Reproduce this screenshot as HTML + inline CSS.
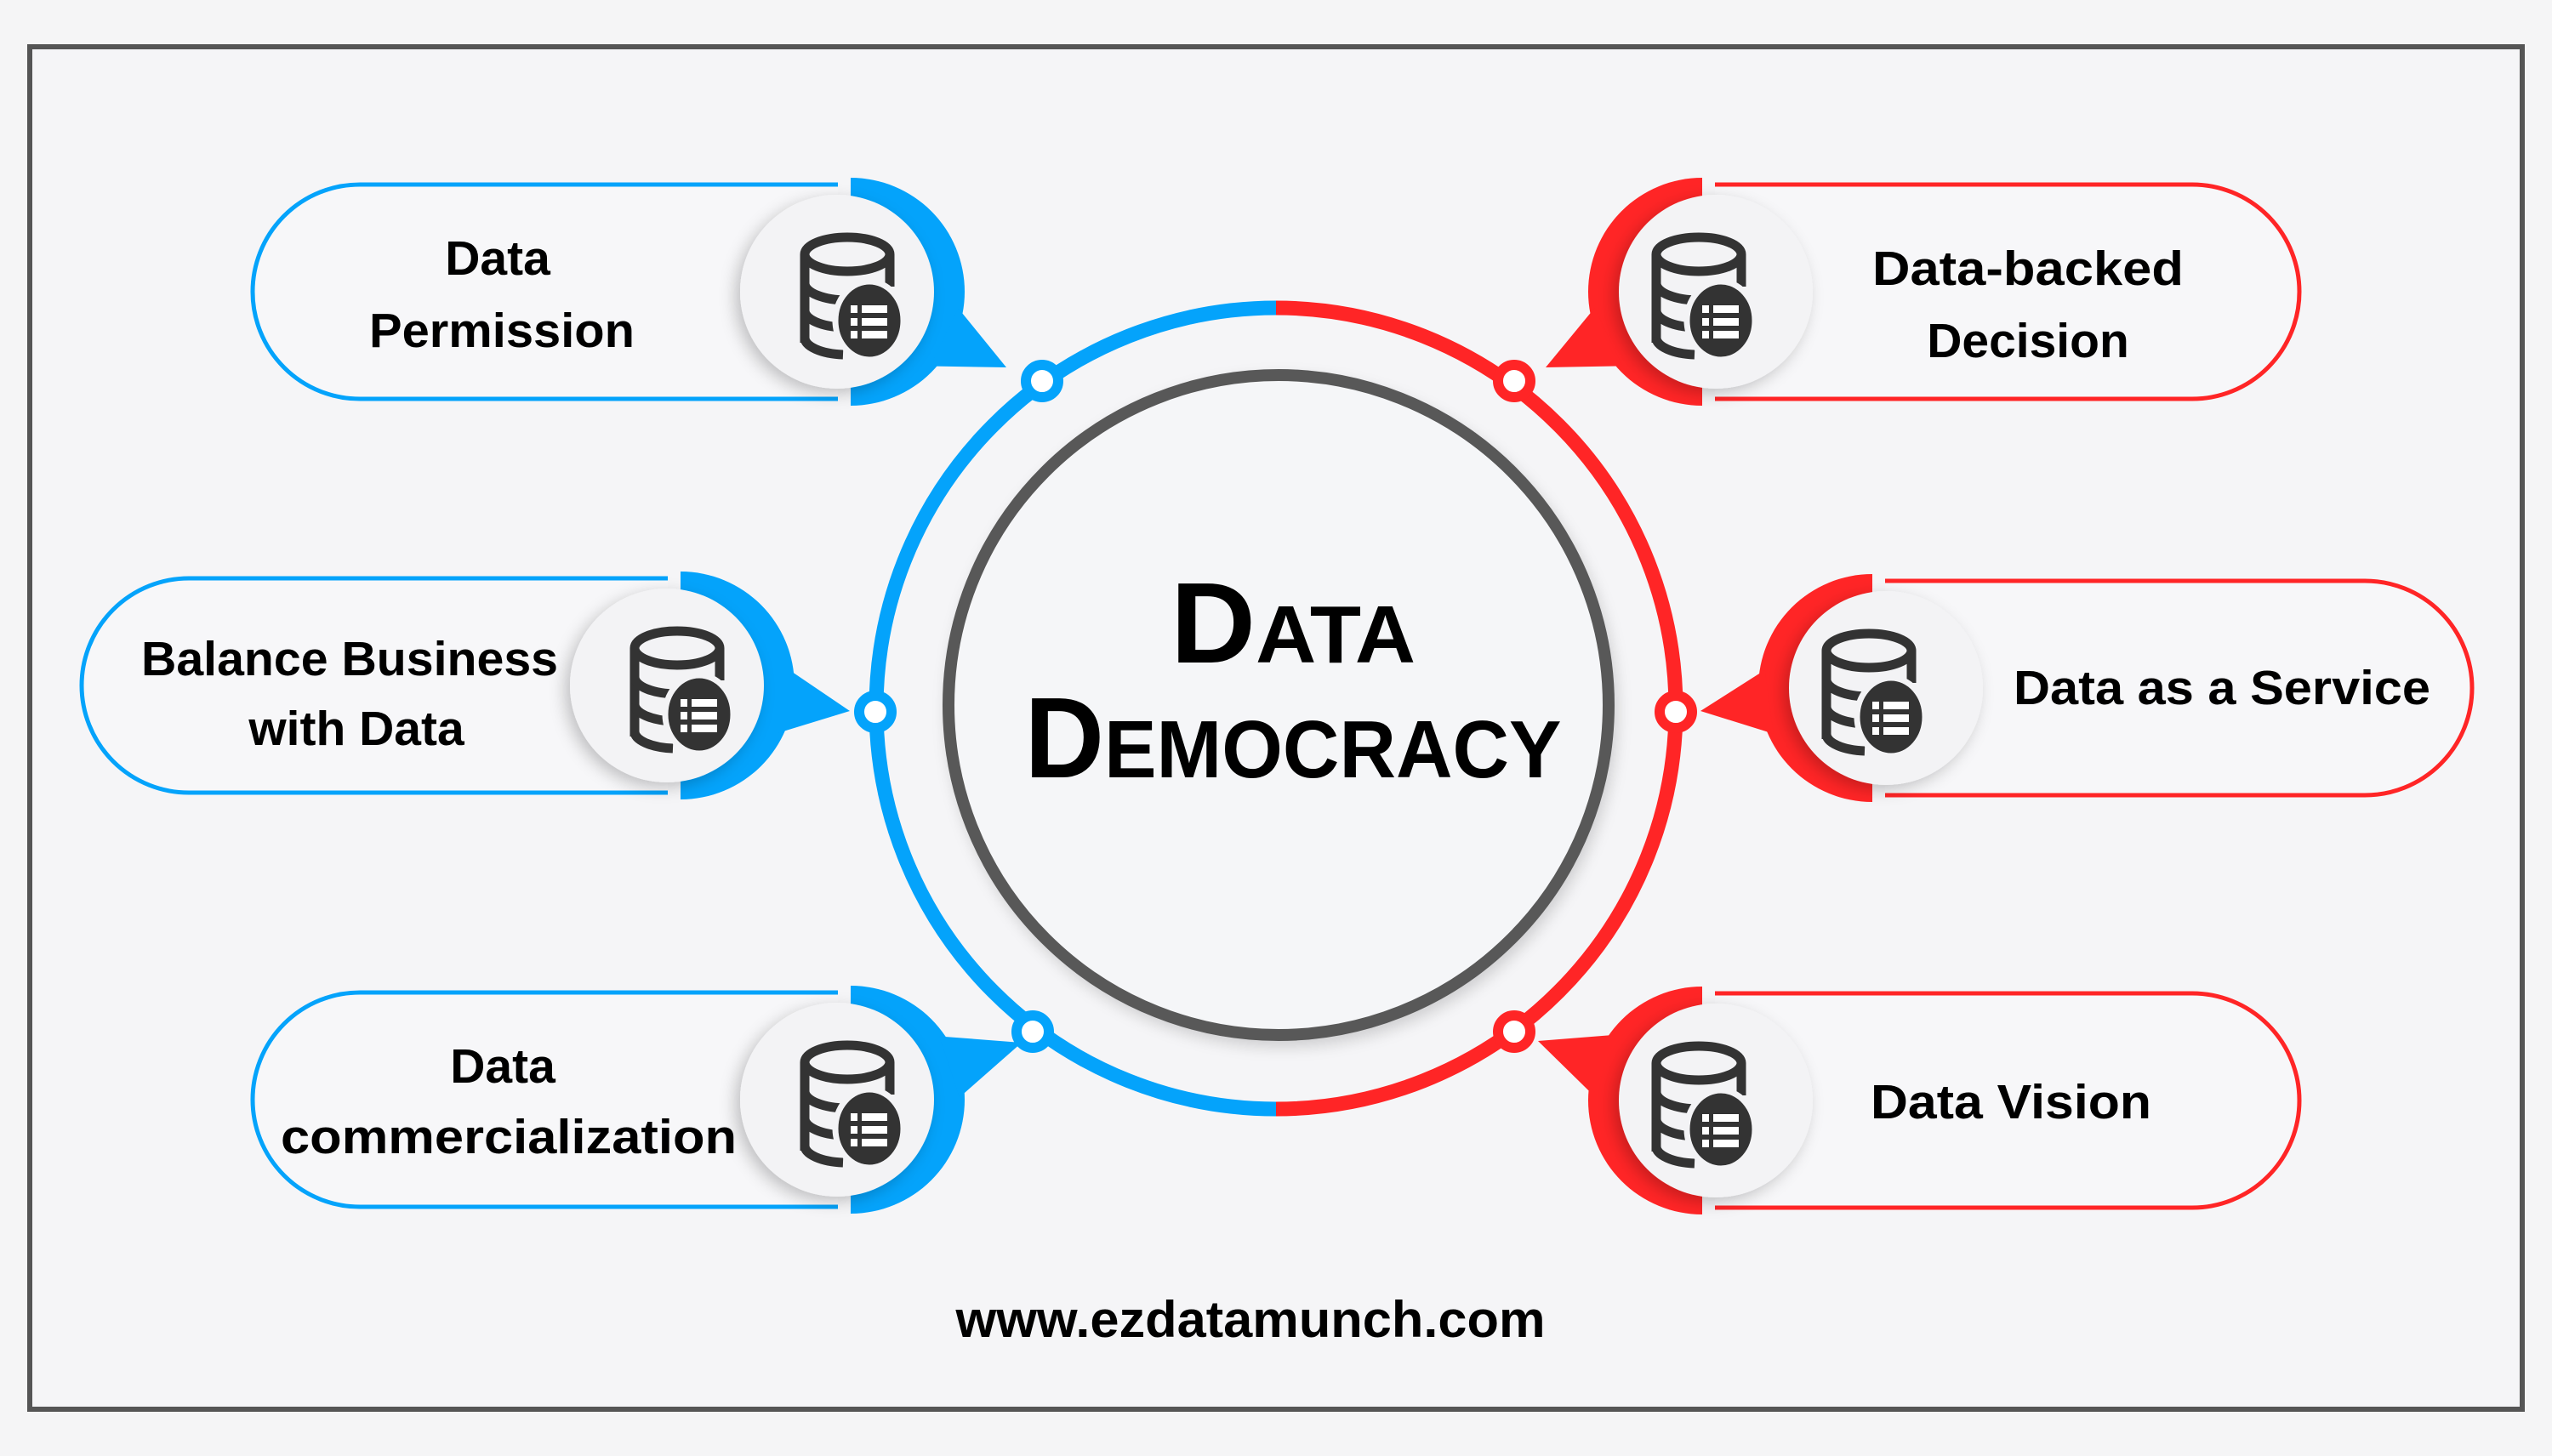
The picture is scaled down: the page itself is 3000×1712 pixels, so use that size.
<!DOCTYPE html>
<html><head><meta charset="utf-8"><style>
html,body{margin:0;padding:0;background:#f5f5f6;}
svg{display:block}
text{font-family:"Liberation Sans",sans-serif;font-weight:bold;fill:#000}
</style></head><body>
<svg id="s" width="3000" height="1712" viewBox="0 0 3000 1712" xmlns="http://www.w3.org/2000/svg">
<defs>
<filter id="sh" x="-30%" y="-30%" width="160%" height="160%"><feDropShadow dx="-6" dy="6" stdDeviation="9" flood-color="#000" flood-opacity="0.22"/></filter>
<filter id="sh2" x="-10%" y="-10%" width="120%" height="120%"><feDropShadow dx="4" dy="8" stdDeviation="8" flood-color="#000" flood-opacity="0.15"/></filter>
<g id="icon">
  <ellipse cx="0" cy="-46" rx="50" ry="20" fill="none" stroke="#333" stroke-width="11"/>
  <path d="M-50,-46 L-50,58" stroke="#333" stroke-width="11"/>
  <path d="M50,-46 L50,-8" stroke="#333" stroke-width="11"/>
  <path d="M-50,-12 A50,20 0 0 0 0,8" fill="none" stroke="#333" stroke-width="11"/>
  <path d="M-50,20 A50,20 0 0 0 -5,40" fill="none" stroke="#333" stroke-width="11"/>
  <path d="M-50,52 A50,20 0 0 0 -5,72" fill="none" stroke="#333" stroke-width="11"/>
  <ellipse cx="26" cy="32" rx="40" ry="46" fill="#333" stroke="#f3f3f5" stroke-width="7"/>
  <rect x="4" y="14" width="8" height="9" fill="#fff"/><rect x="17" y="14" width="30" height="9" fill="#fff"/>
  <rect x="4" y="29" width="8" height="9" fill="#fff"/><rect x="17" y="29" width="30" height="9" fill="#fff"/>
  <rect x="4" y="44" width="8" height="9" fill="#fff"/><rect x="17" y="44" width="30" height="9" fill="#fff"/>
</g>
</defs>
<rect x="0" y="0" width="3000" height="1712" fill="#f5f5f6"/>
<rect x="35" y="55" width="2930" height="1602" fill="#f5f5f7" stroke="#555" stroke-width="6"/>
<g id="shapes"></g>
<path d="M1500,362 A470,471 0 0 0 1500,1304" fill="none" stroke="#04a3fb" stroke-width="17"/>
<path d="M1500,362 A470,471 0 0 1 1500,1304" fill="none" stroke="#ff2526" stroke-width="17"/>
<circle cx="1503" cy="829" r="388" fill="#f5f6f8" stroke="#595959" stroke-width="14" filter="url(#sh2)"/>
<g stroke-width="12" fill="#fff">
<circle cx="1225" cy="448" r="19" stroke="#04a3fb"/>
<circle cx="1029" cy="837" r="19" stroke="#04a3fb"/>
<circle cx="1214" cy="1213" r="19" stroke="#04a3fb"/>
<circle cx="1780" cy="448" r="19" stroke="#ff2526"/>
<circle cx="1970" cy="837" r="19" stroke="#ff2526"/>
<circle cx="1780" cy="1213" r="19" stroke="#ff2526"/>
</g>
<text x="1520" y="779" text-anchor="middle" textLength="288" lengthAdjust="spacingAndGlyphs"><tspan font-size="135">D</tspan><tspan font-size="96">ATA</tspan></text>
<text x="1520" y="914" text-anchor="middle" textLength="631" lengthAdjust="spacingAndGlyphs"><tspan font-size="135">D</tspan><tspan font-size="96">EMOCRACY</tspan></text>
<g font-size="57" text-anchor="middle">
<text x="585" y="323">Data</text>
<text x="590" y="408" textLength="312" lengthAdjust="spacingAndGlyphs">Permission</text>
<text x="411" y="794" textLength="490" lengthAdjust="spacingAndGlyphs">Balance Business</text>
<text x="419" y="876">with Data</text>
<text x="591" y="1273">Data</text>
<text x="598" y="1356" textLength="536" lengthAdjust="spacingAndGlyphs">commercialization</text>
<text x="2384" y="335" textLength="366" lengthAdjust="spacingAndGlyphs">Data-backed</text>
<text x="2384" y="420">Decision</text>
<text x="2612" y="828" textLength="490" lengthAdjust="spacingAndGlyphs">Data as a Service</text>
<text x="2364" y="1315" textLength="330" lengthAdjust="spacingAndGlyphs">Data Vision</text>
</g>
<text x="1470" y="1572" font-size="60" text-anchor="middle" textLength="693" lengthAdjust="spacingAndGlyphs">www.ezdatamunch.com</text>
</svg>
<script>
(function(){
var NS="http://www.w3.org/2000/svg",g=document.getElementById("shapes");
function el(t,a){var e=document.createElementNS(NS,t);for(var k in a)e.setAttribute(k,a[k]);g.appendChild(e);return e;}
var B="#04a3fb",R="#ff2526";
var nodes=[
 {cx:1000,cy:343,far:297,tip:[1183,432],c:B,d:-1},
 {cx:800,cy:806,far:96,tip:[999,836],c:B,d:-1},
 {cx:1000,cy:1293,far:297,tip:[1201,1226],c:B,d:-1},
 {cx:2001,cy:343,far:2703,tip:[1817,432],c:R,d:1},
 {cx:2201,cy:809,far:2906,tip:[1999,836],c:R,d:1},
 {cx:2001,cy:1294,far:2703,tip:[1808,1224],c:R,d:1}
];
nodes.forEach(function(n){
 var h=126,r=134,near=n.cx+n.d*15,t=n.cy-h,b=n.cy+h;
 var ax=n.far-n.d*h;
 el("path",{d:"M"+near+","+t+" L"+ax+","+t+" A"+h+","+h+" 0 0 "+(n.d<0?0:1)+" "+ax+","+b+" L"+near+","+b,fill:"#f7f7f9",stroke:n.c,"stroke-width":5});
 var s=-n.d;
 el("path",{d:"M"+n.cx+","+(n.cy-r)+" A"+r+","+r+" 0 0 "+(s>0?1:0)+" "+n.cx+","+(n.cy+r)+" Z",fill:n.c});
 var dx=n.tip[0]-n.cx,dy=n.tip[1]-n.cy,th=Math.atan2(dy,dx),w=0.3,rr=r-6;
 el("polygon",{points:(n.cx+rr*Math.cos(th-w))+","+(n.cy+rr*Math.sin(th-w))+" "+n.tip[0]+","+n.tip[1]+" "+(n.cx+rr*Math.cos(th+w))+","+(n.cy+rr*Math.sin(th+w)),fill:n.c});
 el("circle",{cx:n.cx+n.d*16,cy:n.cy,r:114,fill:"#f3f3f5",filter:"url(#sh)"});
 el("use",{href:"#icon",transform:"translate("+(n.cx-4)+","+(n.cy+2)+")"});
});
})();
</script>
</body></html>
